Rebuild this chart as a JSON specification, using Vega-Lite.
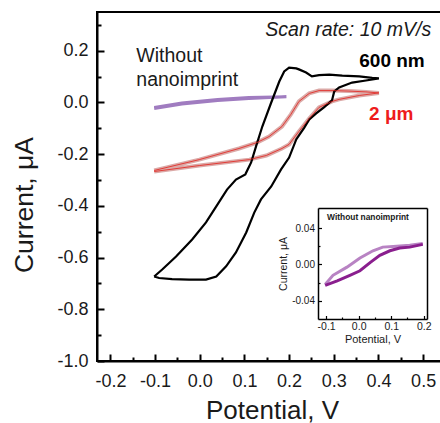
{
  "$schema": "https://vega.github.io/schema/vega-lite/v6.json",
  "width": 344,
  "height": 349,
  "autosize": {"type": "none"},
  "padding": {"left": 97, "top": 12, "right": 0, "bottom": 62},
  "background": "white",
  "config": {
    "view": {"stroke": "#000", "strokeWidth": 2},
    "font": "Liberation Sans",
    "locale": {"number": {"decimal": ".", "thousands": ",", "grouping": [3], "currency": ["$", ""], "minus": "-"}},
    "axis": {"grid": false, "domainColor": "#000", "tickColor": "#000", "labelColor": "#1a1a1a", "titleColor": "#1a1a1a", "labelFont": "Liberation Sans", "titleFont": "Liberation Sans", "titleFontWeight": "normal"}
  },
  "datasets": {
    "main": [
      {"s": "b", "o": 0, "v": -0.102, "i": -0.673},
      {"s": "b", "o": 1, "v": -0.091, "i": -0.679},
      {"s": "b", "o": 2, "v": -0.062, "i": -0.683},
      {"s": "b", "o": 3, "v": -0.024, "i": -0.685},
      {"s": "b", "o": 4, "v": 0.014, "i": -0.685},
      {"s": "b", "o": 5, "v": 0.037, "i": -0.673},
      {"s": "b", "o": 6, "v": 0.059, "i": -0.634},
      {"s": "b", "o": 7, "v": 0.081, "i": -0.58},
      {"s": "b", "o": 8, "v": 0.104, "i": -0.503},
      {"s": "b", "o": 9, "v": 0.122, "i": -0.426},
      {"s": "b", "o": 10, "v": 0.137, "i": -0.375},
      {"s": "b", "o": 11, "v": 0.16, "i": -0.325},
      {"s": "b", "o": 12, "v": 0.182, "i": -0.259},
      {"s": "b", "o": 13, "v": 0.2, "i": -0.213},
      {"s": "b", "o": 14, "v": 0.216, "i": -0.143},
      {"s": "b", "o": 15, "v": 0.234, "i": -0.097},
      {"s": "b", "o": 16, "v": 0.245, "i": -0.066},
      {"s": "b", "o": 17, "v": 0.26, "i": -0.043},
      {"s": "b", "o": 18, "v": 0.278, "i": -0.019},
      {"s": "b", "o": 19, "v": 0.296, "i": 0.008},
      {"s": "b", "o": 20, "v": 0.301, "i": 0.043},
      {"s": "b", "o": 21, "v": 0.312, "i": 0.058},
      {"s": "b", "o": 22, "v": 0.341, "i": 0.077},
      {"s": "b", "o": 23, "v": 0.372, "i": 0.085},
      {"s": "b", "o": 24, "v": 0.401, "i": 0.093},
      {"s": "b", "o": 25, "v": 0.386, "i": 0.095},
      {"s": "b", "o": 26, "v": 0.357, "i": 0.101},
      {"s": "b", "o": 27, "v": 0.319, "i": 0.104},
      {"s": "b", "o": 28, "v": 0.29, "i": 0.108},
      {"s": "b", "o": 29, "v": 0.267, "i": 0.106},
      {"s": "b", "o": 30, "v": 0.251, "i": 0.101},
      {"s": "b", "o": 31, "v": 0.238, "i": 0.116},
      {"s": "b", "o": 32, "v": 0.222, "i": 0.128},
      {"s": "b", "o": 33, "v": 0.216, "i": 0.132},
      {"s": "b", "o": 34, "v": 0.2, "i": 0.135},
      {"s": "b", "o": 35, "v": 0.189, "i": 0.12},
      {"s": "b", "o": 36, "v": 0.178, "i": 0.081},
      {"s": "b", "o": 37, "v": 0.16, "i": 0.0},
      {"s": "b", "o": 38, "v": 0.14, "i": -0.093},
      {"s": "b", "o": 39, "v": 0.126, "i": -0.17},
      {"s": "b", "o": 40, "v": 0.115, "i": -0.232},
      {"s": "b", "o": 41, "v": 0.102, "i": -0.278},
      {"s": "b", "o": 42, "v": 0.081, "i": -0.298},
      {"s": "b", "o": 43, "v": 0.061, "i": -0.337},
      {"s": "b", "o": 44, "v": 0.037, "i": -0.402},
      {"s": "b", "o": 45, "v": 0.014, "i": -0.464},
      {"s": "b", "o": 46, "v": -0.017, "i": -0.53},
      {"s": "b", "o": 47, "v": -0.053, "i": -0.596},
      {"s": "b", "o": 48, "v": -0.084, "i": -0.646},
      {"s": "b", "o": 49, "v": -0.102, "i": -0.673},
      {"s": "r", "o": 0, "v": -0.102, "i": -0.263},
      {"s": "r", "o": 1, "v": -0.001, "i": -0.221},
      {"s": "r", "o": 2, "v": 0.088, "i": -0.178},
      {"s": "r", "o": 3, "v": 0.128, "i": -0.155},
      {"s": "r", "o": 4, "v": 0.155, "i": -0.132},
      {"s": "r", "o": 5, "v": 0.184, "i": -0.093},
      {"s": "r", "o": 6, "v": 0.204, "i": -0.046},
      {"s": "r", "o": 7, "v": 0.222, "i": 0.004},
      {"s": "r", "o": 8, "v": 0.245, "i": 0.035},
      {"s": "r", "o": 9, "v": 0.267, "i": 0.046},
      {"s": "r", "o": 10, "v": 0.296, "i": 0.046},
      {"s": "r", "o": 11, "v": 0.334, "i": 0.044},
      {"s": "r", "o": 12, "v": 0.372, "i": 0.041},
      {"s": "r", "o": 13, "v": 0.401, "i": 0.037},
      {"s": "r", "o": 14, "v": 0.357, "i": 0.027},
      {"s": "r", "o": 15, "v": 0.312, "i": 0.012},
      {"s": "r", "o": 16, "v": 0.296, "i": 0.004},
      {"s": "r", "o": 17, "v": 0.267, "i": -0.019},
      {"s": "r", "o": 18, "v": 0.245, "i": -0.062},
      {"s": "r", "o": 19, "v": 0.222, "i": -0.112},
      {"s": "r", "o": 20, "v": 0.2, "i": -0.162},
      {"s": "r", "o": 21, "v": 0.184, "i": -0.178},
      {"s": "r", "o": 22, "v": 0.149, "i": -0.205},
      {"s": "r", "o": 23, "v": 0.111, "i": -0.221},
      {"s": "r", "o": 24, "v": -0.001, "i": -0.244},
      {"s": "r", "o": 25, "v": -0.102, "i": -0.267},
      {"s": "p", "o": 0, "v": -0.102, "i": -0.019},
      {"s": "p", "o": 1, "v": -0.04, "i": -0.002},
      {"s": "p", "o": 2, "v": 0.04, "i": 0.012},
      {"s": "p", "o": 3, "v": 0.11, "i": 0.019},
      {"s": "p", "o": 4, "v": 0.194, "i": 0.022},
      {"s": "p", "o": 5, "v": 0.11, "i": 0.015},
      {"s": "p", "o": 6, "v": 0.04, "i": 0.008},
      {"s": "p", "o": 7, "v": -0.04, "i": -0.006},
      {"s": "p", "o": 8, "v": -0.102, "i": -0.023}
    ],
    "inset": [
      {"s": "l", "o": 0, "v": -0.103, "i": -0.022},
      {"s": "l", "o": 1, "v": -0.079, "i": -0.012},
      {"s": "l", "o": 2, "v": -0.036, "i": -0.003},
      {"s": "l", "o": 3, "v": 0.004, "i": 0.007},
      {"s": "l", "o": 4, "v": 0.044, "i": 0.015},
      {"s": "l", "o": 5, "v": 0.074, "i": 0.019},
      {"s": "l", "o": 6, "v": 0.117, "i": 0.02},
      {"s": "l", "o": 7, "v": 0.157, "i": 0.021},
      {"s": "l", "o": 8, "v": 0.197, "i": 0.023},
      {"s": "d", "o": 0, "v": -0.103, "i": -0.023},
      {"s": "d", "o": 1, "v": -0.066, "i": -0.018},
      {"s": "d", "o": 2, "v": -0.027, "i": -0.012},
      {"s": "d", "o": 3, "v": 0.004, "i": -0.007},
      {"s": "d", "o": 4, "v": 0.035, "i": 0.002},
      {"s": "d", "o": 5, "v": 0.065, "i": 0.01},
      {"s": "d", "o": 6, "v": 0.096, "i": 0.015},
      {"s": "d", "o": 7, "v": 0.126, "i": 0.018},
      {"s": "d", "o": 8, "v": 0.157, "i": 0.019},
      {"s": "d", "o": 9, "v": 0.197, "i": 0.022}
    ]
  },
  "layer": [
    {
      "data": {"name": "main"},
      "encoding": {
        "x": {"field": "v", "type": "quantitative", "scale": {"domain": [-0.23, 0.54], "nice": false, "zero": false},
          "axis": {"orient": "bottom", "title": "Potential, V", "values": [-0.2, -0.1, 0, 0.1, 0.2, 0.3, 0.4, 0.5], "format": ".1f", "tickSize": -7, "tickWidth": 2, "domainWidth": 2, "labelFontSize": 18, "labelPadding": 18, "titleFontSize": 26, "titleX": 175, "titleY": 57, "titleBaseline": "alphabetic"}},
        "y": {"field": "i", "type": "quantitative", "scale": {"domain": [-1.0, 0.35], "nice": false, "zero": false},
          "axis": {"orient": "left", "title": "Current, μA", "values": [-1.0, -0.8, -0.6, -0.4, -0.2, 0, 0.2], "format": ".1f", "tickSize": -7, "tickWidth": 2, "domainWidth": 2, "labelFontSize": 18, "labelPadding": 16, "titleFontSize": 26.5, "titleX": -65, "titleY": 192.5, "titleBaseline": "alphabetic"}}
      },
      "layer": [
        {"transform": [{"filter": "datum.s == 'p'"}], "mark": {"type": "line", "color": "#a07cc0", "strokeWidth": 3}, "encoding": {"order": {"field": "o"}}},
        {"transform": [{"filter": "datum.s == 'r'"}], "mark": {"type": "line", "color": "#dba9a7", "strokeWidth": 4}, "encoding": {"order": {"field": "o"}}},
        {"transform": [{"filter": "datum.s == 'b'"}], "mark": {"type": "line", "color": "#000000", "strokeWidth": 2.2}, "encoding": {"order": {"field": "o"}}},
        {"transform": [{"filter": "datum.s == 'r'"}], "mark": {"type": "line", "color": "#e3211c", "strokeWidth": 0.8}, "encoding": {"order": {"field": "o"}}}
      ]
    },
    {
      "data": {"values": [{"t": "Scan rate: 10 mV/s"}]},
      "mark": {"type": "text", "fontStyle": "italic", "fontSize": 19.5, "align": "right", "baseline": "alphabetic", "color": "#1a1a1a"},
      "encoding": {
        "text": {"field": "t"},
        "x": {"datum": 0.518, "type": "quantitative", "scale": {"domain": [-0.23, 0.54], "nice": false, "zero": false}, "axis": null},
        "y": {"datum": 0.259, "type": "quantitative", "scale": {"domain": [-1.0, 0.35], "nice": false, "zero": false}, "axis": null}
      }
    },
    {
      "data": {"values": [{"t": "Without"}]},
      "mark": {"type": "text", "fontSize": 19.5, "align": "left", "baseline": "alphabetic", "color": "#1a1a1a"},
      "encoding": {
        "text": {"field": "t"},
        "x": {"datum": -0.142, "type": "quantitative", "scale": {"domain": [-0.23, 0.54], "nice": false, "zero": false}, "axis": null},
        "y": {"datum": 0.155, "type": "quantitative", "scale": {"domain": [-1.0, 0.35], "nice": false, "zero": false}, "axis": null}
      }
    },
    {
      "data": {"values": [{"t": "nanoimprint"}]},
      "mark": {"type": "text", "fontSize": 19.5, "align": "left", "baseline": "alphabetic", "color": "#1a1a1a"},
      "encoding": {
        "text": {"field": "t"},
        "x": {"datum": -0.142, "type": "quantitative", "scale": {"domain": [-0.23, 0.54], "nice": false, "zero": false}, "axis": null},
        "y": {"datum": 0.062, "type": "quantitative", "scale": {"domain": [-1.0, 0.35], "nice": false, "zero": false}, "axis": null}
      }
    },
    {
      "data": {"values": [{"t": "600 nm"}]},
      "mark": {"type": "text", "fontWeight": "bold", "fontSize": 19, "align": "left", "baseline": "alphabetic", "color": "#000000"},
      "encoding": {
        "text": {"field": "t"},
        "x": {"datum": 0.357, "type": "quantitative", "scale": {"domain": [-0.23, 0.54], "nice": false, "zero": false}, "axis": null},
        "y": {"datum": 0.139, "type": "quantitative", "scale": {"domain": [-1.0, 0.35], "nice": false, "zero": false}, "axis": null}
      }
    },
    {
      "data": {"values": [{"t": "2 μm"}]},
      "mark": {"type": "text", "fontWeight": "bold", "fontSize": 19, "align": "left", "baseline": "alphabetic", "color": "#ee1c1c"},
      "encoding": {
        "text": {"field": "t"},
        "x": {"datum": 0.379, "type": "quantitative", "scale": {"domain": [-0.23, 0.54], "nice": false, "zero": false}, "axis": null},
        "y": {"datum": -0.066, "type": "quantitative", "scale": {"domain": [-1.0, 0.35], "nice": false, "zero": false}, "axis": null}
      }
    },
    {
      "data": {"values": [{}]},
      "mark": {"type": "point", "opacity": 0},
      "encoding": {
        "x": {"datum": 0, "type": "quantitative", "scale": {"domain": [-0.23, 0.54], "nice": false, "zero": false},
          "axis": {"orient": "bottom", "title": null, "values": [-0.15, -0.05, 0.05, 0.15, 0.25, 0.35, 0.45], "labels": false, "domain": false, "tickSize": -4, "tickWidth": 2}},
        "y": {"datum": 0, "type": "quantitative", "scale": {"domain": [-1.0, 0.35], "nice": false, "zero": false},
          "axis": {"orient": "left", "title": null, "values": [-0.9, -0.7, -0.5, -0.3, -0.1, 0.1, 0.3], "labels": false, "domain": false, "tickSize": -4, "tickWidth": 2}}
      }
    },
    {
      "data": {"name": "inset"},
      "encoding": {
        "x": {"field": "v", "type": "quantitative", "scale": {"domain": [-0.125, 0.21], "range": [221, 330], "nice": false, "zero": false},
          "axis": {"orient": "bottom", "offset": -42, "title": "Potential, V", "values": [-0.1, 0, 0.1, 0.2], "format": ".1f", "tickSize": -3.5, "tickWidth": 1.2, "domainWidth": 1.5, "labelFontSize": 10.5, "labelPadding": 6, "titleFontSize": 11, "titlePadding": 1}},
        "y": {"field": "i", "type": "quantitative", "scale": {"domain": [-0.06, 0.062], "range": [307, 196], "nice": false, "zero": false},
          "axis": {"orient": "left", "offset": -221, "title": "Current, μA", "values": [-0.04, 0, 0.04], "format": ".2f", "tickSize": -3.5, "tickWidth": 1.2, "domainWidth": 1.5, "labelFontSize": 10, "labelPadding": 7, "titleFontSize": 10.5, "titlePadding": 3}}
      },
      "layer": [
        {"transform": [{"filter": "datum.s == 'l'"}], "mark": {"type": "line", "color": "#b883c3", "strokeWidth": 3}, "encoding": {"order": {"field": "o"}}},
        {"transform": [{"filter": "datum.s == 'd'"}], "mark": {"type": "line", "color": "#8a1f8e", "strokeWidth": 3}, "encoding": {"order": {"field": "o"}}}
      ]
    },
    {
      "data": {"values": [{"t": "Without nanoimprint"}]},
      "mark": {"type": "text", "fontWeight": "bold", "fontSize": 8.4, "align": "left", "baseline": "alphabetic", "color": "#1a1a1a"},
      "encoding": {
        "text": {"field": "t"},
        "x": {"datum": -0.097, "type": "quantitative", "scale": {"domain": [-0.125, 0.21], "range": [221, 330], "nice": false, "zero": false}, "axis": null},
        "y": {"datum": 0.049, "type": "quantitative", "scale": {"domain": [-0.06, 0.062], "range": [307, 196], "nice": false, "zero": false}, "axis": null}
      }
    },
    {
      "data": {"values": [{}]},
      "mark": {"type": "point", "opacity": 0},
      "encoding": {
        "x": {"datum": 0, "type": "quantitative", "scale": {"domain": [-0.125, 0.21], "range": [221, 330], "nice": false, "zero": false},
          "axis": {"orient": "top", "offset": -196, "title": null, "labels": false, "ticks": false, "domainWidth": 1.5}},
        "y": {"datum": 0, "type": "quantitative", "scale": {"domain": [-0.06, 0.062], "range": [307, 196], "nice": false, "zero": false},
          "axis": {"orient": "right", "offset": -14, "title": null, "labels": false, "ticks": false, "domainWidth": 1.5}}
      }
    },
    {
      "data": {"values": [{}]},
      "mark": {"type": "point", "opacity": 0},
      "encoding": {
        "x": {"datum": 0, "type": "quantitative", "scale": {"domain": [-0.125, 0.21], "range": [221, 330], "nice": false, "zero": false},
          "axis": {"orient": "bottom", "offset": -42, "title": null, "labels": false, "domain": false, "values": [-0.05, 0.05, 0.15], "tickSize": -2, "tickWidth": 1.2}},
        "y": {"datum": 0, "type": "quantitative", "scale": {"domain": [-0.06, 0.062], "range": [307, 196], "nice": false, "zero": false},
          "axis": {"orient": "left", "offset": -221, "title": null, "labels": false, "domain": false, "values": [-0.02, 0.02], "tickSize": -2, "tickWidth": 1.2}}
      }
    }
  ],
  "resolve": {"scale": {"x": "independent", "y": "independent"}, "axis": {"x": "independent", "y": "independent"}}
}
